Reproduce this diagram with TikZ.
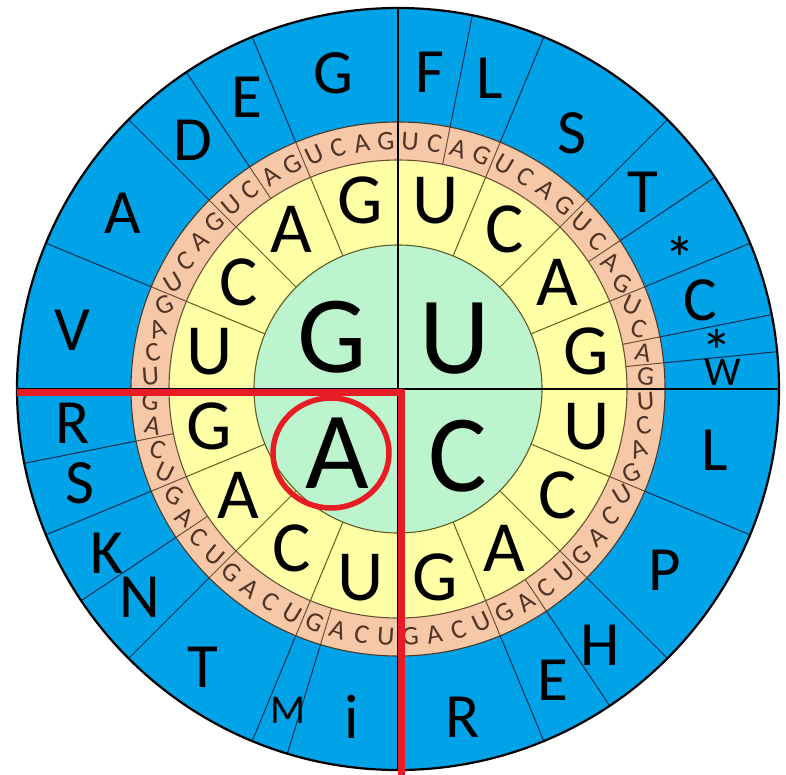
\documentclass[tikz,border=0pt]{standalone}
\usepackage{fontspec}
\setmainfont{Carlito}
\usetikzlibrary{calc}
\definecolor{ringblue}{RGB}{0,162,232}
\definecolor{ringpeach}{RGB}{247,200,168}
\definecolor{ringyellow}{RGB}{255,255,165}
\definecolor{ringgreen}{RGB}{188,244,206}
\definecolor{markred}{RGB}{232,28,36}
\definecolor{thirdtxt}{RGB}{80,52,38}
\definecolor{oliveline}{RGB}{95,95,35}
\definecolor{navyline}{RGB}{20,45,80}
\definecolor{brownline}{RGB}{110,80,55}
\tikzset{
  bigbase/.style={font=\fontsize{110}{110}\selectfont, inner sep=0pt},
  secbase/.style={font=\fontsize{72}{72}\selectfont, inner sep=0pt},
  thirdbase/.style={font=\fontsize{27}{27}\selectfont, text=thirdtxt, inner sep=0pt},
  amino/.style={font=\fontsize{63}{63}\selectfont, inner sep=0pt},
  aminosm/.style={font=\fontsize{41}{41}\selectfont, inner sep=0pt},
  stopmark/.style={font=\fontsize{62}{62}\selectfont, inner sep=0pt},
  ringedge/.style={line width=1.1pt},
  quadline/.style={draw=black, line width=1.8pt},
  redline/.style={draw=markred, line width=7pt},
}
\begin{document}
\begin{tikzpicture}[x=1pt,y=-1pt]
\useasboundingbox (0,0) rectangle (786,775);
\fill[white] (0,0) rectangle (786,775);
\begin{scope}[shift={(398,389)}]
  \coordinate (O) at (0,0);
  \fill[ringblue] (O) circle (381pt);
  \fill[ringpeach] (O) circle (267pt);
  \fill[ringyellow] (O) circle (229pt);
  \fill[ringgreen] (O) circle (144pt);
  % second-base boundaries
  \foreach \a in {22.5,45,67.5,112.5,135,157.5,202.5,225,247.5,292.5,315,337.5}{
    \draw[oliveline, line width=1pt] (\a-90:144) -- (\a-90:229);
    \draw[brownline, line width=1pt] (\a-90:229) -- (\a-90:267);
    \draw[navyline, line width=1pt] (\a-90:267) -- (\a-90:381);
  }
  % amino-acid boundaries inside a group
  \foreach \a in {11.25,56.25,78.75,84.375,146.25,196.875,236.25,258.75,326.25}{
    \draw[brownline, line width=1pt] (\a-90:229) -- (\a-90:267);
    \draw[navyline, line width=1pt] (\a-90:267) -- (\a-90:381);
  }
  \draw[oliveline, ringedge] (O) circle (144pt);
  \draw[brownline, ringedge] (O) circle (229pt);
  \draw[brownline!70!black, ringedge] (O) circle (267pt);
  \foreach \a in {0,90,180,270}{
    \draw[quadline] (O) -- (\a-90:381);
  }
  \draw[black, line width=2.2pt] (O) circle (381pt);
  % third base
  \foreach \k in {0,...,63}{
    \pgfmathsetmacro\a{(\k+0.5)*5.625}
    \pgfmathtruncatemacro\m{mod(\k,4)}
    \pgfmathsetmacro\rot{-40*sin(2*\a)}
    \node[thirdbase, rotate=\rot] (t\k) at (\a-90:248)
      {\ifcase\m U\or C\or A\or G\fi};
  }
  % second base
  \foreach \q in {0,...,3}{
    \foreach \s/\l in {0/U,1/C,2/A,3/G}{
      \pgfmathsetmacro\a{\q*90+\s*22.5+11.25}
      \node[secbase] (s\q\s) at (\a-90:192) {\l};
    }
  }
\end{scope}
% first base
\node[bigbase] (fG) at (332,337) {G};
\node[bigbase] (fU) at (455,339) {U};
\node[bigbase] (fA) at (337,453) {A};
\node[bigbase] (fC) at (458,456) {C};
% amino acids
\node[amino] (aG) at (333,73) {G};
\node[amino] (aE1) at (247,97) {E};
\node[amino] (aD) at (193,140) {D};
\node[amino] (aA) at (123,213) {A};
\node[amino] (aV) at (72,330) {V};
\node[amino] (aR1) at (73,423) {R};
\node[amino] (aS1) at (80,483) {S};
\node[amino] (aK) at (107,553) {K};
\node[amino] (aN) at (140,597) {N};
\node[amino] (aT1) at (203,667) {T};
\node[aminosm] (aM) at (288,710) {M};
\node[amino] (ai) at (352,717) {i};
\node[amino] (aR2) at (463,717) {R};
\node[amino] (aE2) at (553,680) {E};
\node[amino] (aH) at (600,645) {H};
\node[amino] (aP) at (665,570) {P};
\node[amino] (aL1) at (715,450) {L};
\node[aminosm] (aW) at (723,372) {W};
\node[stopmark] (aX1) at (717,351) {*};
\node[amino] (aC) at (700,300) {C};
\node[stopmark] (aX2) at (680,258) {*};
\node[amino] (aT2) at (643,192) {T};
\node[amino] (aS2) at (572,133) {S};
\node[amino] (aL2) at (490,78) {L};
\node[amino] (aF) at (430,72) {F};
% red marks
\coordinate (rl) at (17,392);
\coordinate (rc) at (401,392);
\coordinate (rb) at (401,775);
\draw[redline, line join=miter] (rl) -- (rc) -- (rb);
\draw[markred, line width=5.5pt] (331,453) ellipse [x radius=58pt, y radius=55pt];
\end{tikzpicture}
\end{document}
